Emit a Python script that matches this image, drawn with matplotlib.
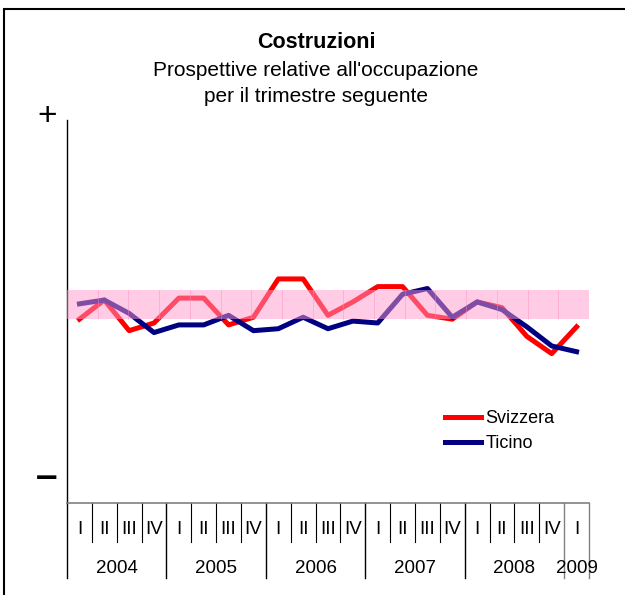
import matplotlib
matplotlib.use('Agg')
import matplotlib.pyplot as plt
import matplotlib.patches as mpatches
import matplotlib.transforms as mtransforms
import numpy as np

plt.rcParams['font.family'] = ['Liberation Sans', 'DejaVu Sans']

RED = '#FF0000'
NAVY = '#000080'
PINK = '#FF99CC'

# ─── dati (saldo stimato, scala -100..+100) ───────────────────────────
years = ['2004', '2005', '2006', '2007', '2008', '2009']
quarters = ['I', 'II', 'III', 'IV']
n_quarters = [4, 4, 4, 4, 4, 1]

svizzera = [-4, 6, -10, -6, 7, 7, -7, -3, 17, 17, -2,
            5, 13, 13, -2, -4, 5, 2, -13, -22, -8]
ticino = [4, 6, -1, -11, -7, -7, -2, -10, -9, -3, -9,
          -5, -6, 9, 12, -3, 5, 1, -8, -18, -21]
band_low, band_high = -4, 11
n_band_seg = 17

fig = plt.figure(figsize=(6.25, 5.95), dpi=100, facecolor='white')
ax = fig.add_axes([67/625, 1 - 503/595, 522/625, 383/595])

x = np.arange(len(svizzera)) + 0.5
ax.plot(x, svizzera, color=RED, lw=3.6, solid_joinstyle='round', zorder=2, label='Svizzera')
ax.plot(x, ticino, color=NAVY, lw=3.6, solid_joinstyle='round', zorder=2, label='Ticino')

# fascia rosa sopra le linee
ax.axhspan(band_low, band_high, color=PINK, alpha=0.5, lw=0, zorder=3)
for xs in np.linspace(0, len(svizzera), n_band_seg + 1)[1:-1]:
    ax.plot([xs, xs], [band_low, band_high], color='#FF88C0', lw=0.6, alpha=0.5, zorder=3)

ax.set_xlim(0, len(svizzera))
ax.set_ylim(-100, 100)
ax.set_xticks([]); ax.set_yticks([])
for s in ['top', 'right', 'bottom']:
    ax.spines[s].set_visible(False)
ax.spines['left'].set_linewidth(1.0)
ax.axhline(-100, color='#808080', lw=1.2, clip_on=False, zorder=4)

# asse categorie a due livelli
trans = mtransforms.blended_transform_factory(ax.transData, ax.transAxes)
pos = 0
for yi, (yr, nq) in enumerate(zip(years, n_quarters)):
    col = '#808080' if yr == '2009' else 'black'
    for q in range(nq):
        ax.text(pos + q + 0.5, -0.068, quarters[q], transform=trans,
                ha='center', va='center', fontsize=13.5)
        if q > 0:
            ax.plot([pos + q, pos + q], [0, -0.102], transform=trans,
                    color='black', lw=0.8, clip_on=False)
    ax.text(pos + nq / 2, -0.17, yr, transform=trans,
            ha='center', va='center', fontsize=13.5)
    if pos > 0:
        ax.plot([pos, pos], [0, -0.196], transform=trans,
                color=col, lw=1.0, clip_on=False)
    pos += nq
ax.plot([pos, pos], [0, -0.196], transform=trans, color='#808080', lw=1.0, clip_on=False)
ax.plot([0, 0], [0, -0.196], transform=trans, color='black', lw=1.0, clip_on=False)

# segni + e -
fig.text(47/625, 1 - 116/595, '+', fontsize=24, ha='center', va='center')
fig.text(47/625, 1 - 478/595, '\u2013', fontsize=28, fontweight='bold', ha='center', va='center')

# titolo
fig.text(316/625, 1 - 42/595, 'Costruzioni', fontsize=15.5, fontweight='bold', ha='center', va='center')
fig.text(316/625, 1 - 71/595, "Prospettive relative all'occupazione", fontsize=15, ha='center', va='center')
fig.text(316/625, 1 - 96/595, 'per il trimestre seguente', fontsize=15, ha='center', va='center')

ax.legend(loc='upper left', bbox_to_anchor=(445/625, 1 - 410/595),
          bbox_transform=fig.transFigure, frameon=False, fontsize=13,
          handlelength=2.0, handletextpad=0.25, labelspacing=0.45,
          borderaxespad=0, borderpad=0)

# cornice
fig.patches.append(mpatches.Rectangle((4/625, -0.1), 1.2, 1 - 9/595 + 0.1,
                                      transform=fig.transFigure, fill=False,
                                      edgecolor='black', lw=1.5))

fig.savefig('out.png', dpi=100, facecolor='white')
